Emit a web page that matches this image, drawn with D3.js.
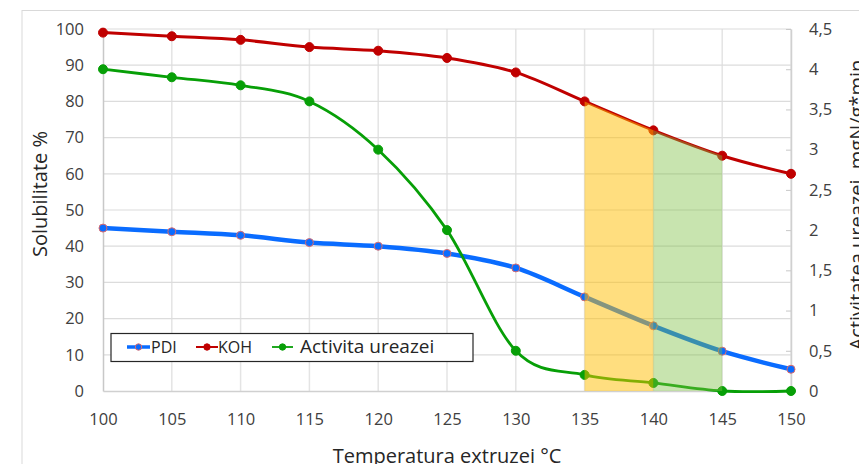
<!DOCTYPE html>
<html>
<head>
    <meta charset="utf-8">
    <style>
        body { margin: 0; background: #fff; }
        svg text { font-family: "Open Sans", sans-serif; fill: #404040; }
    </style>
    <title>Solubilitate si activitatea ureazei</title>
</head>
<body>
    <!-- Load d3.js -->
    <script src="https://d3js.org/d3.v7.min.js"></script>
    <div id="chart"></div>
    <script>
        // data
        var temps = [100, 105, 110, 115, 120, 125, 130, 135, 140, 145, 150];
        var pdi = [45, 44, 43, 41, 40, 38, 34, 26, 18, 11, 6];
        var koh = [99, 98, 97, 95, 94, 92, 88, 80, 72, 65, 60];
        var urease = [4.0, 3.9, 3.8, 3.6, 3.0, 2.0, 0.5, 0.2, 0.1, 0, 0];
        var leftTicks = [0, 10, 20, 30, 40, 50, 60, 70, 80, 90, 100];
        var rightTicks = [0, 0.5, 1, 1.5, 2, 2.5, 3, 3.5, 4, 4.5];
        var bands = [
            { from: 135, to: 140, color: "rgba(255,190,0,0.5)" },
            { from: 140, to: 145, color: "rgba(125,190,65,0.42)" }
        ];

        var W = 859, H = 464;
        var pl = 103, pr = 791, pt = 29, pb = 391;

        var svg = d3.select("#chart").append("svg")
            .attr("width", W).attr("height", H);

        // outer chart frame (partly outside the window)
        svg.append("rect")
            .attr("x", 22).attr("y", 10.5)
            .attr("width", 1000).attr("height", 600)
            .attr("fill", "none").attr("stroke", "#d9d9d9");

        var x = d3.scaleLinear().domain([100, 150]).range([pl, pr]);
        var y = d3.scaleLinear().domain([0, 100]).range([pb, pt]);
        var y2 = d3.scaleLinear().domain([0, 4.5]).range([pb, pt]);

        // grid
        svg.append("g").selectAll("line").data(temps.slice(1)).enter()
            .append("line")
            .attr("x1", d => x(d)).attr("x2", d => x(d))
            .attr("y1", pt).attr("y2", pb)
            .attr("stroke", "#e4e4e4").attr("stroke-width", 1.5);
        svg.append("g").selectAll("line").data(leftTicks.slice(1)).enter()
            .append("line")
            .attr("x1", pl).attr("x2", pr)
            .attr("y1", d => y(d)).attr("y2", d => y(d))
            .attr("stroke", "#dcdcdc").attr("stroke-width", 1.2);

        // left axis
        var yAxis = svg.append("g")
            .attr("transform", "translate(" + pl + ",0)")
            .call(d3.axisLeft(y).tickValues(leftTicks).tickSize(0).tickPadding(19));
        yAxis.select(".domain").attr("stroke", "#c8c8c8").attr("stroke-width", 1.5);

        // bottom axis
        var xAxis = svg.append("g")
            .attr("transform", "translate(0," + pb + ")")
            .call(d3.axisBottom(x).tickValues(temps).tickSize(0).tickPadding(22));
        xAxis.select(".domain").attr("stroke", "#d0d0d0").attr("stroke-width", 1.5);

        // right axis, ticks pointing inward
        var y2Axis = svg.append("g")
            .attr("transform", "translate(" + pr + ",0)")
            .call(d3.axisRight(y2).tickValues(rightTicks).tickSizeInner(-5).tickSizeOuter(0)
                .tickPadding(18).tickFormat(d => String(d).replace(".", ",")));
        y2Axis.select(".domain").attr("stroke", "#d0d0d0").attr("stroke-width", 1.5);
        y2Axis.selectAll(".tick line").attr("stroke", "#c8c8c8");

        svg.selectAll(".tick text")
            .attr("font-size", "16.5px")
            .attr("font-family", "Open Sans, sans-serif")
            .attr("fill", "#333");

        // axis titles
        svg.append("text")
            .attr("transform", "translate(47,194) rotate(-90)")
            .attr("text-anchor", "middle")
            .attr("font-size", "20px")
            .style("fill", "#262626")
            .text("Solubilitate %");
        svg.append("text")
            .attr("x", 447).attr("y", 463)
            .attr("text-anchor", "middle")
            .attr("font-size", "20px")
            .style("fill", "#262626")
            .text("Temperatura extruzei °C");
        svg.append("text")
            .attr("transform", "translate(864,205) rotate(-90)")
            .attr("text-anchor", "middle")
            .attr("font-size", "20px")
            .style("fill", "#262626")
            .text("Activitatea ureazei, mgN/g*min");

        // smoothed lines like the spreadsheet
        var curve = d3.curveCatmullRom.alpha(0);
        var series = [
            { name: "PDI", values: pdi, scale: y, color: "#0a6cff", width: 4.5, r: 4, stroke: "#e06a6a" },
            { name: "KOH", values: koh, scale: y, color: "#c00000", width: 3, r: 4.5, stroke: "#c00000" },
            { name: "Activita ureazei", values: urease, scale: y2, color: "#079f07", width: 2.8, r: 4.5, stroke: "#079f07" }
        ];

        series.forEach(function(s) {
            var line = d3.line()
                .x(function(d, i) { return x(temps[i]); })
                .y(function(d) { return s.scale(d); })
                .curve(curve);
            svg.append("path")
                .datum(s.values)
                .attr("d", line)
                .attr("fill", "none")
                .attr("stroke", s.color)
                .attr("stroke-width", s.width);
            svg.append("g").selectAll("circle").data(s.values).enter()
                .append("circle")
                .attr("cx", function(d, i) { return x(temps[i]); })
                .attr("cy", function(d) { return s.scale(d); })
                .attr("r", s.r)
                .attr("fill", s.color)
                .attr("stroke", s.stroke)
                .attr("stroke-width", 1);
        });

        // shaded bands under the KOH line, drawn over the lines
        bands.forEach(function(b) {
            var pts = temps.map(function(t, i) { return { t: t, v: koh[i] }; })
                .filter(function(p) { return p.t >= b.from && p.t <= b.to; });
            svg.append("path")
                .datum(pts)
                .attr("d", d3.area()
                    .x(function(p) { return x(p.t); })
                    .y0(pb)
                    .y1(function(p) { return y(p.v); }))
                .attr("fill", b.color);
        });

        // legend
        var lg = svg.append("g");
        lg.append("rect")
            .attr("x", 111).attr("y", 333.5)
            .attr("width", 362).attr("height", 28)
            .attr("fill", "#fff").attr("stroke", "#262626").attr("stroke-width", 1.2);
        var legendItems = [
            { s: series[0], x1: 127, x2: 150, tx: 151, size: "16px" },
            { s: series[1], x1: 196, x2: 218, tx: 218, size: "16px" },
            { s: series[2], x1: 272, x2: 293, tx: 300, size: "19px" }
        ];
        legendItems.forEach(function(it) {
            lg.append("line")
                .attr("x1", it.x1).attr("x2", it.x2)
                .attr("y1", 347).attr("y2", 347)
                .attr("stroke", it.s.color).attr("stroke-width", it.s.width - 1);
            lg.append("circle")
                .attr("cx", (it.x1 + it.x2) / 2).attr("cy", 347).attr("r", 3.2)
                .attr("fill", it.s.color).attr("stroke", it.s.stroke);
            lg.append("text")
                .attr("x", it.tx).attr("y", 353)
                .attr("font-size", it.size)
                .style("fill", "#262626")
                .text(it.s.name);
        });
    </script>
</body>
</html>
